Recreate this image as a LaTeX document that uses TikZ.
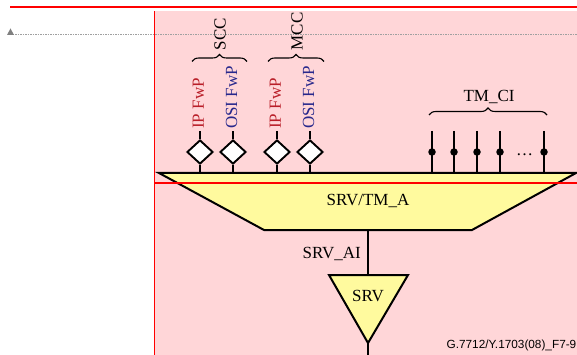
\documentclass[tikz,border=0pt]{standalone}
\usepackage{fontspec}
\setmainfont{Liberation Serif}
\newfontfamily\labsans{Liberation Sans}
\usetikzlibrary{shapes.geometric,decorations.pathreplacing}
\definecolor{pinkbg}{RGB}{255,214,216}
\definecolor{yel}{RGB}{255,250,158}
\definecolor{ipred}{RGB}{185,30,40}
\definecolor{osiblue}{RGB}{40,40,140}
\definecolor{guide}{RGB}{160,160,160}
\tikzset{
  lbl/.style={font=\fontsize{17}{19}\selectfont, inner sep=0pt},
  vlbl/.style={lbl, rotate=90, anchor=west},
  port/.style={diamond, draw=black, fill=white, line width=1.9pt, minimum width=26pt, minimum height=24pt, inner sep=0pt},
  wire/.style={line width=1.9pt, black},
  brc/.style={decorate, decoration={brace, amplitude=7pt}, line width=1.1pt},
  blk/.style={draw=black, fill=yel, line width=2pt, line join=miter},
  dotnode/.style={circle, fill=black, inner sep=0pt, minimum size=7.5pt},
}
\begin{document}
\begin{tikzpicture}[x=1pt,y=-1pt]
\useasboundingbox (0,0) rectangle (577,355);
% background artefacts
\fill[pinkbg] (154,11) rectangle (577,355);
\draw[red, line width=2.3pt] (10,7.3) -- (577,7.3);
\draw[red, line width=1pt] (154.5,11) -- (154.5,355);
\draw[guide, line width=0.7pt, dash pattern=on 1.5pt off 1pt] (10,34) -- (577,34);
\fill[guide!80!black] (10.5,28.5) -- (14,35) -- (7,35) -- cycle;
% trapezoid SRV/TM_A
\coordinate (tl) at (159,173);
\coordinate (tr) at (576,173);
\coordinate (br) at (472,230);
\coordinate (bl) at (264,230);
\draw[blk] (tl) -- (tr) -- (br) -- (bl) -- cycle;
\node[lbl] (tma) at (368,201) {SRV/TM\_A};
% red horizontal guide over trapezoid
\draw[red, line width=1.5pt] (154,183) -- (577,183);
% SRV triangle
\coordinate (ttl) at (329,275);
\coordinate (ttr) at (408,275);
\coordinate (apex) at (368,343);
\draw[blk] (ttl) -- (ttr) -- (apex) -- cycle;
\node[lbl] (srv) at (368,296) {SRV};
\coordinate (abot) at (368,230);
\coordinate (atop) at (368,275);
\coordinate (aend) at (368,356);
\draw[wire] (abot) -- (atop);
\draw[wire] (apex) -- (aend);
\node[lbl, anchor=east] (srvai) at (361,254) {SRV\_AI};
% diamonds (ports)
\foreach \n/\x in {d1/200,d2/233,d3/277,d4/310}{
  \node[port] (\n) at (\x,152) {};
  \coordinate (\n t) at (\x,131.5);
  \coordinate (\n b) at (\x,173);
  \draw[wire] (\n t) -- (\n.north);
  \draw[wire] (\n.south) -- (\n b);
}
\node[vlbl, text=ipred] (l1) at (198.5,129) {IP FwP};
\node[vlbl, text=osiblue] (l2) at (231.5,129) {OSI FwP};
\node[vlbl, text=ipred] (l3) at (275.5,129) {IP FwP};
\node[vlbl, text=osiblue] (l4) at (308.5,129) {OSI FwP};
% braces SCC / MCC
\coordinate (b1a) at (192,61.5);
\coordinate (b1b) at (247,61.5);
\coordinate (b2a) at (268,61.5);
\coordinate (b2b) at (324,61.5);
\draw[brc] (b1a) -- (b1b);
\draw[brc] (b2a) -- (b2b);
\node[vlbl] (scc) at (220,50.5) {SCC};
\node[vlbl] (mcc) at (297,50.5) {MCC};
% TM_CI points
\foreach \n/\x/\w in {c1/432/1.9pt,c2/454/2.8pt,c3/477/1.9pt,c4/500/1.9pt,c5/544/1.9pt}{
  \coordinate (\n t) at (\x,131);
  \coordinate (\n b) at (\x,173);
  \draw[line width=\w] (\n t) -- (\n b);
  \node[dotnode] (\n) at (\x,152) {};
}
\node[lbl, anchor=base] (dots) at (524.5,155.5) {\dots};
\coordinate (b3a) at (429,115);
\coordinate (b3b) at (547,115);
\draw[brc] (b3a) -- (b3b);
\node[lbl] (tmci) at (489,97) {TM\_CI};
% figure id
\node[font=\labsans\fontsize{11.8}{13}\selectfont, anchor=east, inner sep=0pt] (fid) at (576.5,345.5) {G.7712/Y.1703(08)\_F7-9};
\end{tikzpicture}
\end{document}
